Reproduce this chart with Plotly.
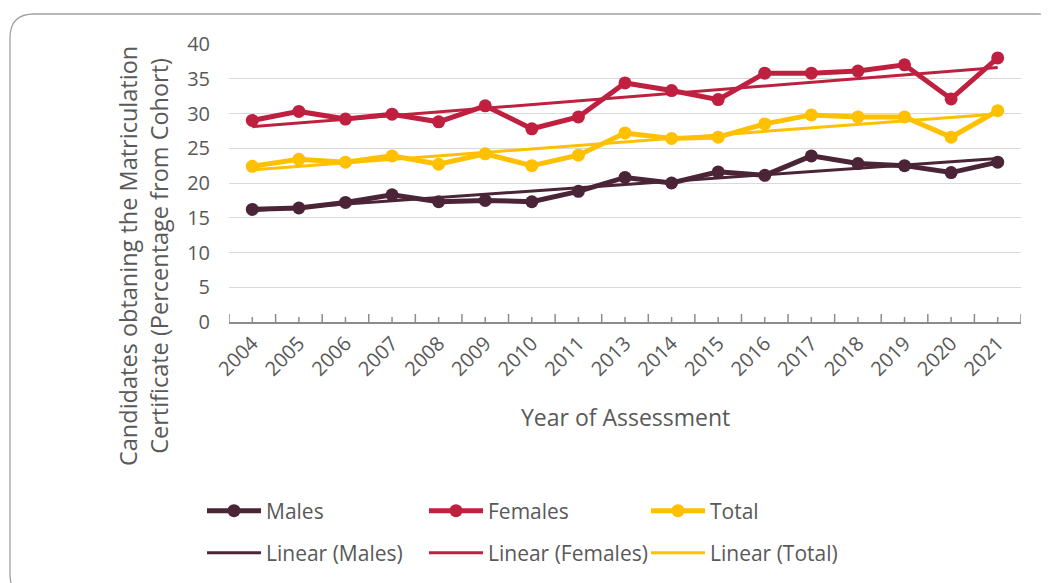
import numpy as np
import plotly.graph_objects as go

years = ["2004", "2005", "2006", "2007", "2008", "2009", "2010", "2011", "2013",
         "2014", "2015", "2016", "2017", "2018", "2019", "2020", "2021"]
males = [16.2, 16.4, 17.2, 18.3, 17.3, 17.5, 17.3, 18.8, 20.8, 20.0, 21.6, 21.1, 23.9, 22.8, 22.5, 21.5, 23.0]
females = [29.0, 30.3, 29.2, 29.9, 28.8, 31.1, 27.8, 29.5, 34.4, 33.3, 32.0, 35.8, 35.8, 36.1, 37.0, 32.1, 38.0]
total = [22.4, 23.4, 23.0, 23.9, 22.7, 24.2, 22.5, 24.0, 27.2, 26.4, 26.6, 28.5, 29.8, 29.5, 29.5, 26.6, 30.4]
y_ticks = [0, 5, 10, 15, 20, 25, 30, 35, 40]

C_M = "#4B2537"
C_F = "#C0203F"
C_T = "#FFC000"
TXT = "#595959"
FONT = "Open Sans"

# page body has an 8px margin: figure is sized/offset to compensate
OFF = 8
W, H = 1049 - OFF, 583 - OFF
PL, PR, PT, PB = 229, 1021, 44, 322          # plot area in screen pixels
L, R, T, B = PL - OFF, 1049 - PR, PT - OFF, 583 - PB
PW, PH = PR - PL, PB - PT


def px(x):
    return (x - PL) / PW


def py(y):
    return (PB - y) / PH


def trend(vals):
    idx = np.arange(1, len(vals) + 1)
    m, c = np.polyfit(idx, vals, 1)
    return list(m * idx + c)


fig = go.Figure()
series = [("Males", males, C_M), ("Females", females, C_F), ("Total", total, C_T)]
for name, vals, col in series:
    fig.add_trace(go.Scatter(
        x=years, y=vals, name=name, mode="lines+markers",
        line=dict(color=col, width=5), marker=dict(color=col, size=13),
        legend="legend", cliponaxis=False))
for name, vals, col in series:
    fig.add_trace(go.Scatter(
        x=years, y=trend(vals), name=f"Linear ({name})", mode="lines",
        line=dict(color=col, width=3), legend="legend2"))

shapes = []
# x-axis crossing tick marks: major at category boundaries, minor at centers
for i in range(len(years) + 1):
    shapes.append(dict(type="line", xref="x", yref="y", ysizemode="pixel", yanchor=0,
                       x0=i - 0.5, x1=i - 0.5, y0=-7, y1=8,
                       line=dict(color="#8c8c8c", width=1.5)))
for i in range(len(years)):
    shapes.append(dict(type="line", xref="x", yref="y", ysizemode="pixel", yanchor=0,
                       x0=i, x1=i, y0=-5, y1=5,
                       line=dict(color="#8c8c8c", width=1.5)))

# rounded outer border
x0, y0, x1, y1, r = 10, 14, 1062, 598, 24
rx, ry = r / PW, r / PH
X0, X1, Y0, Y1 = px(x0), px(x1), py(y0), py(y1)
path = (f"M {X0 + rx},{Y0} L {X1 - rx},{Y0} Q {X1},{Y0} {X1},{Y0 - ry} "
        f"L {X1},{Y1 + ry} Q {X1},{Y1} {X1 - rx},{Y1} "
        f"L {X0 + rx},{Y1} Q {X0},{Y1} {X0},{Y1 + ry} "
        f"L {X0},{Y0 - ry} Q {X0},{Y0} {X0 + rx},{Y0} Z")
shapes.append(dict(type="path", xref="paper", yref="paper", path=path,
                   line=dict(color="#a0a0a0", width=1.3), layer="below"))

annotations = [
    dict(text="Candidates obtaning the Matriculation<br>Certificate (Percentage from Cohort)",
         xref="paper", yref="paper", x=px(143), y=py(256), textangle=-90,
         showarrow=False, font=dict(family=FONT, size=23.5, color=TXT),
         xanchor="center", yanchor="middle"),
    dict(text="Year of Assessment", xref="paper", yref="paper", x=px(625), y=py(417),
         showarrow=False, font=dict(family=FONT, size=23, color=TXT),
         xanchor="center", yanchor="middle"),
]

leg_common = dict(orientation="h", entrywidth=153, entrywidthmode="pixels",
                  font=dict(family=FONT, size=21, color=TXT), bgcolor="rgba(0,0,0,0)",
                  xanchor="left", yanchor="middle", itemwidth=54, tracegroupgap=0,
                  itemclick=False)

fig.update_layout(
    width=W, height=H,
    margin=dict(l=L, r=R, t=T, b=B, autoexpand=False),
    paper_bgcolor="white", plot_bgcolor="white",
    font=dict(family=FONT, color=TXT),
    showlegend=True,
    legend=dict(x=px(202), y=py(511), **leg_common),
    legend2=dict(x=px(202), y=py(553), **leg_common),
    shapes=shapes,
    annotations=annotations,
    xaxis=dict(type="category", categoryorder="array", categoryarray=years,
               range=[-0.5, len(years) - 0.5],
               showline=True, linecolor="#8c8c8c", linewidth=1.5,
               showgrid=False, zeroline=False, ticks="",
               tickangle=-45, tickfont=dict(family=FONT, size=20, color=TXT)),
    yaxis=dict(range=[0, 40], tickvals=y_ticks, showline=False, zeroline=False,
               showgrid=True, gridcolor="#d9d9d9", gridwidth=1.3, ticks="",
               ticklabelstandoff=18,
               tickfont=dict(family=FONT, size=20, color=TXT)),
)

fig.write_html("out.html")
